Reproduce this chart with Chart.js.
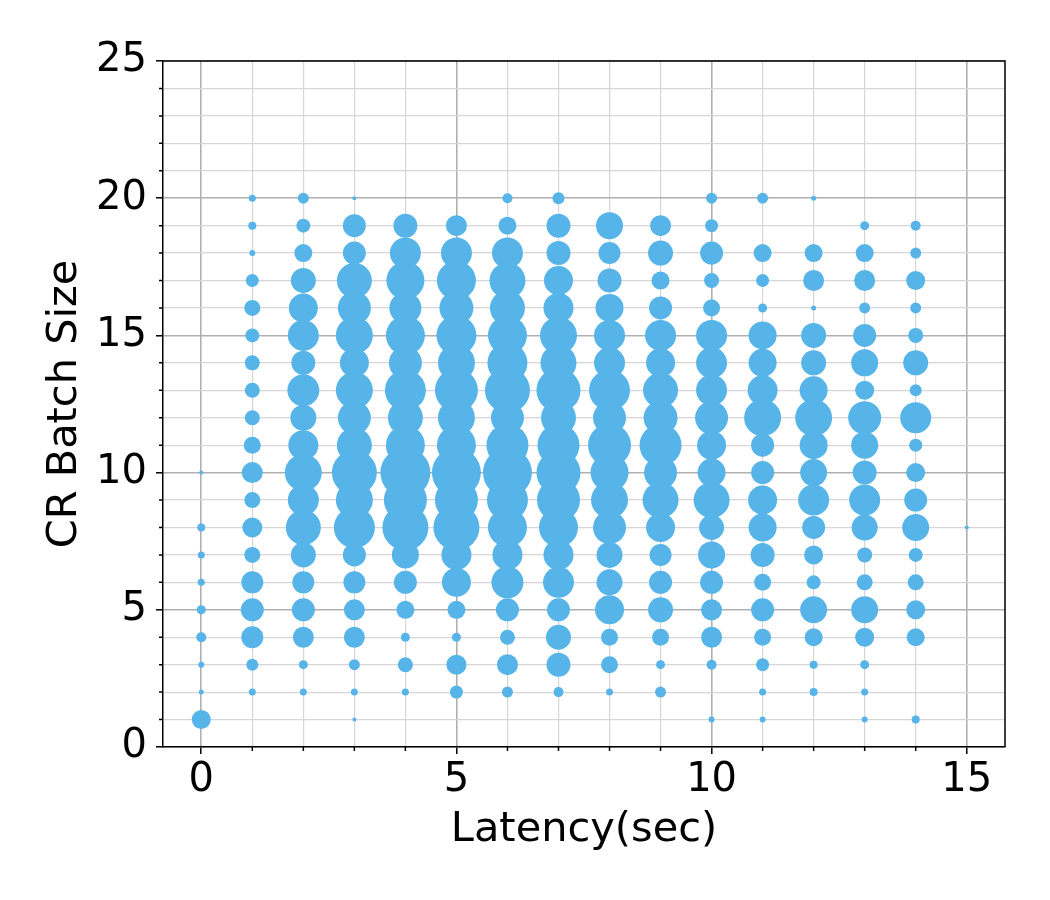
<!DOCTYPE html>
<html>
<head>
<meta charset="utf-8">
<script src="https://cdn.jsdelivr.net/npm/chart.js@4/dist/chart.umd.min.js"></script>
<style>
  html, body { margin: 0; padding: 0; background: #ffffff; }
  #wrap { width: 1050px; height: 900px; }
</style>
</head>
<body>
<div id="wrap"><canvas id="c" width="1050" height="900"></canvas></div>
<script>
// Latency values (x) and CR batch sizes (y)
const latencies = [0, 1, 2, 3, 4, 5, 6, 7, 8, 9, 10, 11, 12, 13, 14, 15];
const batchSizes = [1, 2, 3, 4, 5, 6, 7, 8, 9, 10, 11, 12, 13, 14, 15, 16, 17, 18, 19, 20];

// Marker diameters, one list per latency, batch size 1..20 (0 = no point)
const lat0  = [19, 5, 6, 10, 9, 7, 7, 8, 0, 4, 0, 0, 0, 0, 0, 0, 0, 0, 0, 0];
const lat1  = [0, 7, 12, 22, 23, 22, 16, 20, 16, 21, 17, 15, 15, 15, 14, 16, 13, 6, 8, 7];
const lat2  = [0, 7, 9, 21, 23, 22, 25, 35, 31, 37, 30, 26, 32, 24, 31, 29, 25, 18, 14, 11];
const lat3  = [4, 7, 11, 21, 21, 22, 23, 41, 37, 45, 35, 33, 37, 29, 37, 33, 35, 23, 23, 4];
const lat4  = [0, 7, 15, 9, 18, 23, 27, 46, 43, 50, 39, 35, 41, 33, 39, 32, 38, 31, 24, 0];
const lat5  = [0, 13, 20, 9, 18, 29, 30, 46, 43, 49, 39, 37, 43, 37, 40, 34, 39, 31, 21, 0];
const lat6  = [0, 11, 21, 15, 23, 32, 30, 39, 41, 49, 42, 33, 45, 40, 39, 35, 36, 31, 18, 10];
const lat7  = [0, 10, 24, 25, 23, 31, 30, 39, 43, 44, 42, 35, 44, 36, 37, 30, 29, 24, 24, 12];
const lat8  = [0, 7, 17, 17, 29, 26, 26, 33, 37, 38, 43, 33, 41, 31, 31, 28, 24, 22, 27, 0];
const lat9  = [0, 11, 9, 17, 25, 23, 22, 29, 36, 33, 42, 34, 35, 29, 31, 23, 18, 25, 21, 0];
const lat10 = [6, 0, 10, 21, 21, 23, 27, 25, 36, 28, 29, 33, 31, 31, 31, 17, 15, 23, 13, 11];
const lat11 = [6, 7, 13, 17, 23, 17, 24, 28, 29, 23, 23, 37, 30, 28, 28, 9, 13, 18, 0, 11];
const lat12 = [0, 8, 8, 18, 27, 14, 19, 23, 31, 27, 28, 37, 28, 25, 25, 5, 21, 18, 0, 5];
const lat13 = [6, 7, 9, 19, 27, 16, 15, 26, 31, 24, 27, 33, 19, 27, 23, 11, 21, 18, 9, 0];
const lat14 = [8, 0, 0, 18, 19, 16, 14, 27, 23, 19, 13, 31, 12, 25, 15, 11, 19, 11, 10, 0];
const lat15 = [0, 0, 0, 0, 0, 0, 0, 4, 0, 0, 0, 0, 0, 0, 0, 0, 0, 0, 0, 0];

const xTickValues = [0, 1, 2, 3, 4, 5, 6, 7, 8, 9, 10, 11, 12, 13, 14, 15];
const yTickValues = [0, 1, 2, 3, 4, 5, 6, 7, 8, 9, 10, 11, 12, 13, 14, 15, 16, 17, 18, 19, 20, 21, 22, 23, 24, 25];

const diameterLists = [lat0, lat1, lat2, lat3, lat4, lat5, lat6, lat7, lat8, lat9, lat10, lat11, lat12, lat13, lat14, lat15];

const points = [];
latencies.forEach((lat, i) => {
  batchSizes.forEach((b, j) => {
    const d = diameterLists[i][j];
    if (d > 0) points.push({ x: lat, y: b, r: d / 2 });
  });
});

const FONT = 'DejaVu Sans';
const isMajor = v => Math.abs(v % 5) < 1e-9;

const frameAndMinorTicks = {
  id: 'frameAndMinorTicks',
  afterDraw(chart) {
    const ctx = chart.ctx;
    const a = chart.chartArea;
    const xs = chart.scales.x, ys = chart.scales.y;
    ctx.save();
    ctx.strokeStyle = '#000';
    ctx.lineWidth = 1.5;
    ctx.beginPath();
    xTickValues.forEach(v => {
      if (!isMajor(v)) {
        const px = xs.getPixelForValue(v);
        ctx.moveTo(px, a.bottom);
        ctx.lineTo(px, a.bottom + 4);
      }
    });
    yTickValues.forEach(v => {
      if (!isMajor(v)) {
        const py = ys.getPixelForValue(v);
        ctx.moveTo(a.left, py);
        ctx.lineTo(a.left - 4, py);
      }
    });
    ctx.stroke();
    ctx.beginPath();
    ctx.moveTo(a.left, a.top);
    ctx.lineTo(a.right, a.top);
    ctx.lineTo(a.right, a.bottom);
    ctx.stroke();
    ctx.restore();
  }
};

new Chart(document.getElementById('c'), {
  type: 'bubble',
  data: {
    datasets: [{
      data: points,
      backgroundColor: '#56B4E9',
      borderWidth: 0,
      hoverBorderWidth: 0
    }]
  },
  options: {
    responsive: false,
    animation: false,
    devicePixelRatio: 1,
    layout: { padding: { left: 0, top: 61, right: 45, bottom: 0 } },
    plugins: { legend: { display: false }, tooltip: { enabled: false } },
    scales: {
      x: {
        type: 'linear',
        min: -0.75,
        max: 15.75,
        afterBuildTicks: s => { s.ticks = xTickValues.map(v => ({ value: v })); },
        afterFit: s => { s.height = 153; },
        ticks: {
          callback: v => (isMajor(v) ? String(v) : ''),
          autoSkip: false,
          maxRotation: 0,
          color: '#000',
          padding: 3,
          font: { family: FONT, size: 40 }
        },
        grid: {
          color: c => (isMajor(c.tick.value) ? '#b0b0b0' : '#d6d6d6'),
          lineWidth: c => (isMajor(c.tick.value) ? 1.6 : 1.2),
          tickLength: 7,
          tickWidth: 1.5,
          tickColor: c => (isMajor(c.tick.value) ? '#000' : 'rgba(0,0,0,0)')
        },
        border: { display: true, color: '#000', width: 1.5 },
        title: {
          display: true,
          text: 'Latency(sec)',
          color: '#000',
          font: { family: FONT, size: 41.5, lineHeight: 1 },
          padding: { top: 0, bottom: 49 }
        }
      },
      y: {
        type: 'linear',
        min: 0,
        max: 25,
        afterBuildTicks: s => { s.ticks = yTickValues.map(v => ({ value: v })); },
        afterFit: s => { s.width = 163; },
        ticks: {
          callback: v => (isMajor(v) ? String(v) : ''),
          autoSkip: false,
          color: '#000',
          padding: 9,
          font: { family: FONT, size: 40 }
        },
        grid: {
          color: c => (isMajor(c.tick.value) ? '#b0b0b0' : '#d6d6d6'),
          lineWidth: c => (isMajor(c.tick.value) ? 1.6 : 1.2),
          tickLength: 7,
          tickWidth: 1.5,
          tickColor: c => (isMajor(c.tick.value) ? '#000' : 'rgba(0,0,0,0)')
        },
        border: { display: true, color: '#000', width: 1.5 },
        title: {
          display: true,
          text: 'CR Batch Size',
          color: '#000',
          font: { family: FONT, size: 41.5, lineHeight: 1 },
          padding: { top: 44, bottom: 0 }
        }
      }
    }
  },
  plugins: [frameAndMinorTicks]
});
</script>
</body>
</html>
